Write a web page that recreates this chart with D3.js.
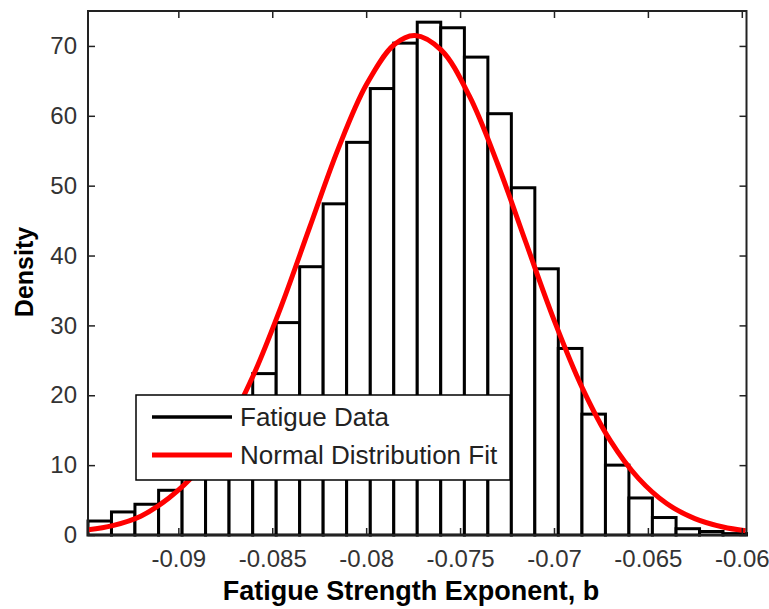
<!DOCTYPE html>
<html>
<head>
<meta charset="utf-8">
<script src="https://cdn.jsdelivr.net/npm/d3@7"></script>
<style>
  body { margin: 0; background: #fff; }
  svg { display: block; font-family: "Liberation Sans", Arial, sans-serif; }
</style>
</head>
<body>
<div id="chart"></div>
<script>
// histogram bin edges (29 edges -> 28 bins)
var binEdges = [-0.09481, -0.09356, -0.09231, -0.09105, -0.08980, -0.08855, -0.08730, -0.08604,
  -0.08479, -0.08354, -0.08229, -0.08104, -0.07978, -0.07853, -0.07728, -0.07603, -0.07477,
  -0.07352, -0.07227, -0.07102, -0.06977, -0.06851, -0.06726, -0.06601, -0.06476, -0.06350,
  -0.06225, -0.06100, -0.05975];
// density of each bin
var density = [2.0, 3.3, 4.4, 6.4, 9.5, 13.0, 17.5, 23.1, 30.4, 38.4, 47.4, 56.2, 63.9, 70.4,
  73.4, 72.6, 68.4, 60.3, 49.7, 38.1, 26.7, 17.3, 10.0, 5.3, 2.5, 0.9, 0.5, 0.2];
// points along the normal distribution fit curve
var fitX = [-0.0948, -0.0935, -0.092, -0.0905, -0.089, -0.0875, -0.086, -0.0845, -0.083, -0.0815,
  -0.08, -0.0785, -0.0774, -0.076, -0.0745, -0.073, -0.0715, -0.07, -0.0685, -0.067, -0.0655,
  -0.064, -0.0625, -0.061, -0.0598];
var fitY = [0.75, 1.35, 2.7, 5.3, 9.1, 14.9, 22.9, 32.9, 44.1, 55.2, 64.4, 70.2, 71.5, 69.4,
  62.8, 53.1, 41.9, 30.8, 21.1, 13.5, 8.1, 4.5, 2.35, 1.14, 0.6];
var xTicks = [-0.09, -0.085, -0.08, -0.075, -0.07, -0.065, -0.06];
var xTickLabels = ['-0.09', '-0.085', '-0.08', '-0.075', '-0.07', '-0.065', '-0.06'];
var yTicks = [0, 10, 20, 30, 40, 50, 60, 70];
var legendLabels = ['Fatigue Data', 'Normal Distribution Fit'];
var legendColors = ['#000', '#ff0000'];

var W = 769, H = 609;
var plot = { left: 88, right: 746.5, top: 11, bottom: 535 }; // axes box

var x = d3.scaleLinear().domain([binEdges[0], binEdges[binEdges.length - 1]]).range([plot.left, plot.right]);
var y = d3.scaleLinear().domain([0, 75]).range([plot.bottom, plot.top]);

var svg = d3.select('#chart').append('svg')
  .attr('width', W)
  .attr('height', H);

svg.append('defs').append('clipPath').attr('id', 'clip')
  .append('rect')
  .attr('x', plot.left).attr('y', plot.top)
  .attr('width', plot.right - plot.left).attr('height', plot.bottom - plot.top);

// bars
svg.append('g').selectAll('rect')
  .data(density)
  .enter().append('rect')
  .attr('x', function (d, i) { return x(binEdges[i]); })
  .attr('y', function (d) { return y(d); })
  .attr('width', function (d, i) { return x(binEdges[i + 1]) - x(binEdges[i]); })
  .attr('height', function (d) { return y(0) - y(d); })
  .attr('fill', '#fff')
  .attr('stroke', '#000')
  .attr('stroke-width', 3);

// fit curve
var line = d3.line()
  .x(function (d) { return x(d[0]); })
  .y(function (d) { return y(d[1]); })
  .curve(d3.curveCatmullRom);

svg.append('path')
  .datum(d3.zip(fitX, fitY))
  .attr('clip-path', 'url(#clip)')
  .attr('d', line)
  .attr('fill', 'none')
  .attr('stroke', '#ff0000')
  .attr('stroke-width', 5);

// axes, ticks pointing inwards like matlab
svg.append('g')
  .attr('transform', 'translate(0,' + plot.bottom + ')')
  .call(d3.axisBottom(x).tickValues(xTicks).tickSizeInner(-7).tickSizeOuter(0).tickPadding(15)
    .tickFormat(function (d, i) { return xTickLabels[i]; }));
svg.append('g')
  .attr('transform', 'translate(0,' + plot.top + ')')
  .call(d3.axisTop(x).tickValues(xTicks).tickSizeInner(-7).tickSizeOuter(0).tickFormat(''));
svg.append('g')
  .attr('transform', 'translate(' + plot.left + ',0)')
  .call(d3.axisLeft(y).tickValues(yTicks).tickSizeInner(-7).tickSizeOuter(0).tickPadding(11));
svg.append('g')
  .attr('transform', 'translate(' + plot.right + ',0)')
  .call(d3.axisRight(y).tickValues(yTicks).tickSizeInner(-7).tickSizeOuter(0).tickFormat(''));

svg.selectAll('.domain').remove();
svg.selectAll('.tick line').attr('stroke', '#222').attr('stroke-width', 1.5);
svg.selectAll('.tick text')
  .attr('fill', '#333')
  .style('font-size', '24px')
  .style('font-family', '"Liberation Sans", Arial, sans-serif');

svg.append('rect')
  .attr('x', plot.left).attr('y', plot.top)
  .attr('width', plot.right - plot.left).attr('height', plot.bottom - plot.top)
  .attr('fill', 'none')
  .attr('stroke', '#222')
  .attr('stroke-width', 2);

// axis titles
svg.append('text')
  .attr('x', 411).attr('y', 600)
  .attr('text-anchor', 'middle')
  .style('font-size', '27px').style('font-weight', 'bold')
  .text('Fatigue Strength Exponent, b');

svg.append('text')
  .attr('transform', 'translate(33,272) rotate(-90)')
  .attr('text-anchor', 'middle')
  .style('font-size', '25px').style('font-weight', 'bold')
  .text('Density');

// legend
var legend = svg.append('g').attr('transform', 'translate(136,395)');
legend.append('rect')
  .attr('width', 374).attr('height', 85)
  .attr('fill', '#fff')
  .attr('stroke', '#000')
  .attr('stroke-width', 1.5);

var item = legend.selectAll('.item')
  .data(legendLabels)
  .enter().append('g')
  .attr('class', 'item')
  .attr('transform', function (d, i) { return 'translate(0,' + (22 + i * 38) + ')'; });
item.append('line')
  .attr('x1', 16).attr('x2', 96)
  .attr('stroke', function (d, i) { return legendColors[i]; })
  .attr('stroke-width', function (d, i) { return i ? 5 : 3.5; });
item.append('text')
  .attr('x', 104).attr('dy', '0.35em')
  .attr('fill', '#222')
  .style('font-size', '26px')
  .text(function (d) { return d; });
</script>
</body>
</html>
